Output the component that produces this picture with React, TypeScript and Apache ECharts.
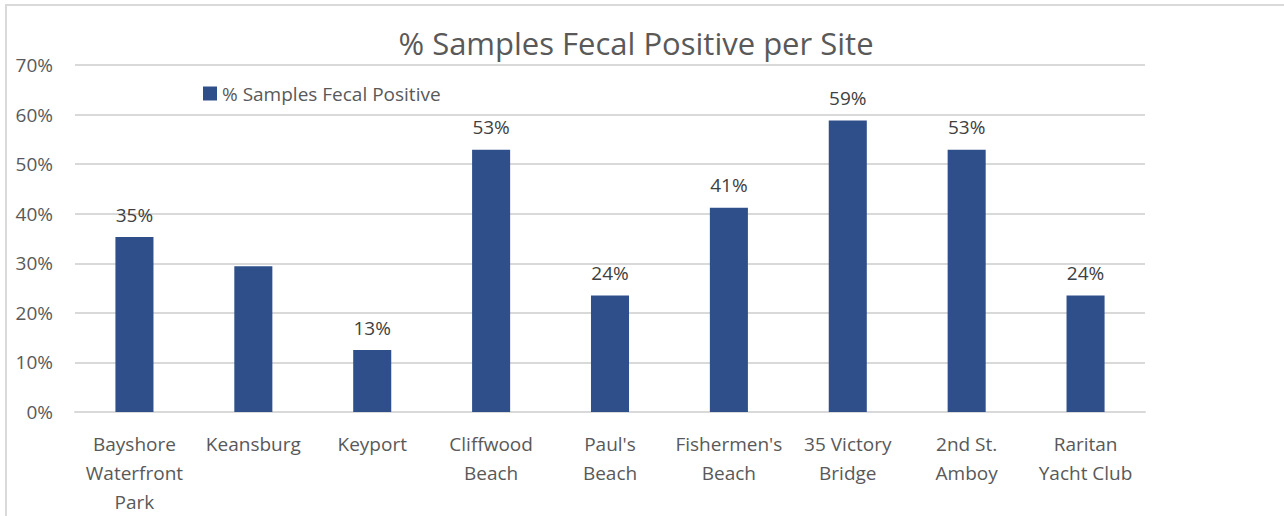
import React, { useEffect, useRef } from "react";
import * as echarts from "echarts";

const categories = [
  "Bayshore\nWaterfront\nPark",
  "Keansburg",
  "Keyport",
  "Cliffwood\nBeach",
  "Paul's\nBeach",
  "Fishermen's\nBeach",
  "35 Victory\nBridge",
  "2nd St.\nAmboy",
  "Raritan\nYacht Club",
];
const values = [35.3, 29.4, 12.5, 52.9, 23.5, 41.2, 58.8, 52.9, 23.5];
const showLabel = [true, false, true, true, true, true, true, true, true];
const seriesName = "% Samples Fecal Positive";
const titleText = "% Samples Fecal Positive per Site";

export default function App() {
  const ref = useRef<HTMLDivElement>(null);
  useEffect(() => {
    document.body.style.margin = "0";
    const chart = echarts.init(ref.current!, null, { renderer: "svg" });
    const font = "'Open Sans', 'Noto Sans', sans-serif";
    chart.setOption({
      animation: false,
      backgroundColor: "#ffffff",
      textStyle: { fontFamily: font },
      title: {
        text: titleText,
        left: 631,
        textAlign: "center",
        top: 22,
        textStyle: { fontSize: 31, fontWeight: "normal", color: "#595959", fontFamily: font },
      },
      legend: {
        left: 198,
        top: 79,
        itemWidth: 14,
        itemHeight: 14,
        itemGap: 7,
        icon: "rect",
        textStyle: { fontSize: 19, color: "#595959", fontFamily: font },
        data: [seriesName],
      },
      grid: { left: 75, right: 139, top: 65, bottom: 104, containLabel: false },
      xAxis: {
        type: "category",
        data: categories,
        axisLine: { lineStyle: { color: "#d9d9d9", width: 2 } },
        axisTick: { show: false },
        axisLabel: {
          color: "#595959",
          fontSize: 19,
          lineHeight: 29,
          margin: 17,
          interval: 0,
          fontFamily: font,
        },
      },
      yAxis: {
        type: "value",
        min: 0,
        max: 70,
        interval: 10,
        axisLabel: {
          formatter: (v: number) => v + "%",
          color: "#595959",
          fontSize: 19,
          margin: 22,
          fontFamily: font,
        },
        splitLine: { lineStyle: { color: "#d9d9d9", width: 2 } },
        axisLine: { show: false },
        axisTick: { show: false },
      },
      series: [
        {
          name: seriesName,
          type: "bar",
          barWidth: "32%",
          itemStyle: { color: "#2e4f8a" },
          data: values.map((v, i) => ({
            value: v,
            label: {
              show: showLabel[i],
              position: "top",
              distance: 13,
              formatter: () => Math.round(v) + "%",
              color: "#404040",
              fontSize: 19,
              fontFamily: font,
            },
          })),
        },
      ],
      graphic: [
        {
          type: "rect",
          shape: { x: 6, y: 5, width: 1400, height: 700 },
          style: { fill: "none", stroke: "#d9d9d9", lineWidth: 2 },
          silent: true,
        },
      ],
    });
    return () => chart.dispose();
  }, []);
  return <div ref={ref} style={{ width: 1284, height: 516 }} />;
}
